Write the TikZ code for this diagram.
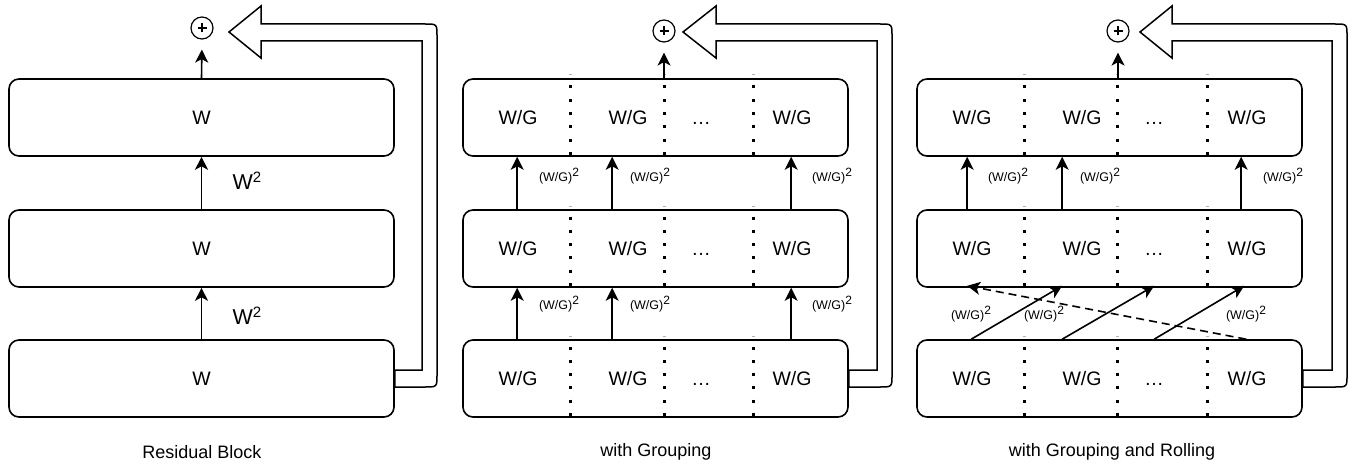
\documentclass[tikz,border=0pt]{standalone}
\usepackage{fontspec}
\setmainfont{Liberation Sans}
\usetikzlibrary{arrows.meta,calc}

\tikzset{
  blk/.style={draw, line width=1.6pt, rounded corners=10pt, minimum width=385pt,
    minimum height=77pt, inner sep=0pt},
  lbl/.style={font=\fontsize{19.5}{22}\selectfont, inner sep=0pt},
  gap/.style={font=\fontsize{19.5}{22}\selectfont, inner sep=0pt, anchor=base},
  wsq/.style={font=\fontsize{21.5}{24}\selectfont, inner sep=0pt},
  small/.style={font=\fontsize{12.5}{14}\selectfont, inner sep=0pt},
  title/.style={font=\fontsize{18}{20}\selectfont, inner sep=0pt},
  flow/.style={line width=1.6pt, -{Stealth[length=13pt,width=13pt,inset=3.5pt]}},
  sepdots/.style={line width=3pt, line cap=butt, dash pattern=on 3pt off 10.3pt},
  skipbody/.style={draw, line width=1.5pt, fill=white, line join=miter},
  sumnode/.style={draw, circle, line width=1.2pt, minimum size=22pt, inner sep=0pt},
}

% superscript helpers
\newcommand\bigsq{\raisebox{6.5pt}{\fontsize{15}{15}\selectfont 2}}
\newcommand\smallsq{\raisebox{4.5pt}{\fontsize{12}{12}\selectfont 2}}

% hollow skip arrow: tip x, head x, inner x, outer x, source block
\newcommand\drawskip[5]{%
  \draw[skipbody] (#1,32) -- (#2,6) -- (#2,24) -- ({#4-12},24)
    .. controls (#4,24) .. (#4,36) -- (#4,375)
    .. controls (#4,387) .. ({#4-12},387)
    -- ([yshift=-8.5pt]#5.east) -- ([yshift=8.5pt]#5.east)
    -- (#3,370) -- (#3,41) -- (#2,41) -- (#2,58) -- cycle;}

% dotted group separator: x, top of block
\newcommand\sepline[2]{%
  \draw[sepdots] (#1,{#2+6.5}) -- (#1,{#2+78});
  \draw[gray!60, line width=1pt] ({#1-1.5},{#2-4}) -- ({#1+1.5},{#2-4});}

% adder symbol
\newcommand\plusmark[1]{%
  \draw[line width=1.1pt] ([xshift=-4.5pt]#1.center) -- ([xshift=4.5pt]#1.center);
  \draw[line width=1.1pt] ([yshift=-4.5pt]#1.center) -- ([yshift=4.5pt]#1.center);}

\begin{document}
\begin{tikzpicture}[x=1pt, y=-1pt]
\useasboundingbox (0,0) rectangle (1359,468);

% ---------------- Residual Block ----------------
\node[blk, lbl] (a1) at (201.5,117.5) {W};
\node[blk, lbl] (a2) at (201.5,248.5) {W};
\node[blk, lbl] (a3) at (201.5,378.5) {W};
\node[sumnode] (s1) at (202,28) {};
\plusmark{s1}
\draw[flow, shorten >=10pt] (a1.north) -- (s1.south);
\draw[flow] (a2.north) -- (a1.south);
\draw[flow] (a3.north) -- (a2.south);
\node[wsq] (wa) at (247,181) {W\bigsq};
\node[wsq] (wb) at (247,316) {W\bigsq};
\drawskip{229}{261}{422}{437}{a3}
\node[title] (c1) at (202,452) {Residual Block};

% ---------------- with Grouping ----------------
\foreach \r/\yc/\yt in {1/117.5/79, 2/248.5/210, 3/378.5/340} {
  \node[blk] (b\r) at (655.5,\yc) {};
  \node[lbl] (b\r g1) at (518,\yc) {W/G};
  \node[lbl] (b\r g2) at (628,\yc) {W/G};
  \node[gap] (b\r d)  at (701,\yc+7) {…};
  \node[lbl] (b\r g3) at (792,\yc) {W/G};
  \sepline{570}{\yt}
  \sepline{664}{\yt}
  \sepline{753}{\yt}
}
\node[sumnode] (s2) at (664,31) {};
\plusmark{s2}
\draw[flow, shorten >=10pt] (b1.north -| s2) -- (s2.south);
\foreach \dx in {55,150,329} {
  \draw[flow] ($(b2.north west)+(\dx,0)$) -- ($(b1.south west)+(\dx,0)$);
  \draw[flow] ($(b3.north west)+(\dx,0)$) -- ($(b2.south west)+(\dx,0)$);
}
\foreach \x/\n in {559/1,650/2,832/3} {
  \node[small] (bt\n) at (\x,176) {(W/G)\smallsq};
  \node[small] (bb\n) at (\x,304) {(W/G)\smallsq};
}
\drawskip{683}{716}{877}{892}{b3}
\node[title] (c2) at (656,452) {with Grouping};

% ---------------- with Grouping and Rolling ----------------
\foreach \r/\yc/\yt in {1/117.5/79, 2/248.5/210, 3/378.5/340} {
  \node[blk] (r\r) at (1109.5,\yc) {};
  \node[lbl] (r\r g1) at (972,\yc) {W/G};
  \node[lbl] (r\r g2) at (1082,\yc) {W/G};
  \node[gap] (r\r d)  at (1154,\yc+7) {…};
  \node[lbl] (r\r g3) at (1247,\yc) {W/G};
  \sepline{1024}{\yt}
  \sepline{1117}{\yt}
  \sepline{1207}{\yt}
}
\node[sumnode] (s3) at (1118,31) {};
\plusmark{s3}
\draw[flow, shorten >=10pt] (r1.north -| s3) -- (s3.south);
\foreach \dx in {51,146,325} {
  \draw[flow] ($(r2.north west)+(\dx,0)$) -- ($(r1.south west)+(\dx,0)$);
}
% rolled connections between the lower blocks
\draw[flow] ($(r3.north west)+(55,0)$) -- ($(r2.south west)+(146,-2)$);
\draw[flow] ($(r3.north west)+(146,0)$) -- ($(r2.south west)+(238,-2)$);
\draw[flow] ($(r3.north west)+(238,0)$) -- ($(r2.south west)+(328,-2)$);
\draw[flow, dash pattern=on 8pt off 5pt] ($(r3.north west)+(330,0)$) -- ($(r2.south west)+(51,-2)$);
\foreach \x/\n in {1008/1,1100/2,1283/3} {
  \node[small] (rt\n) at (\x,176) {(W/G)\smallsq};
}
\foreach \x/\n in {971/1,1044/2,1246/3} {
  \node[small] (rb\n) at (\x,314) {(W/G)\smallsq};
}
\drawskip{1140}{1172}{1332}{1347}{r3}
\node[title] (c3) at (1112,452) {with Grouping and Rolling};
\end{tikzpicture}
\end{document}
